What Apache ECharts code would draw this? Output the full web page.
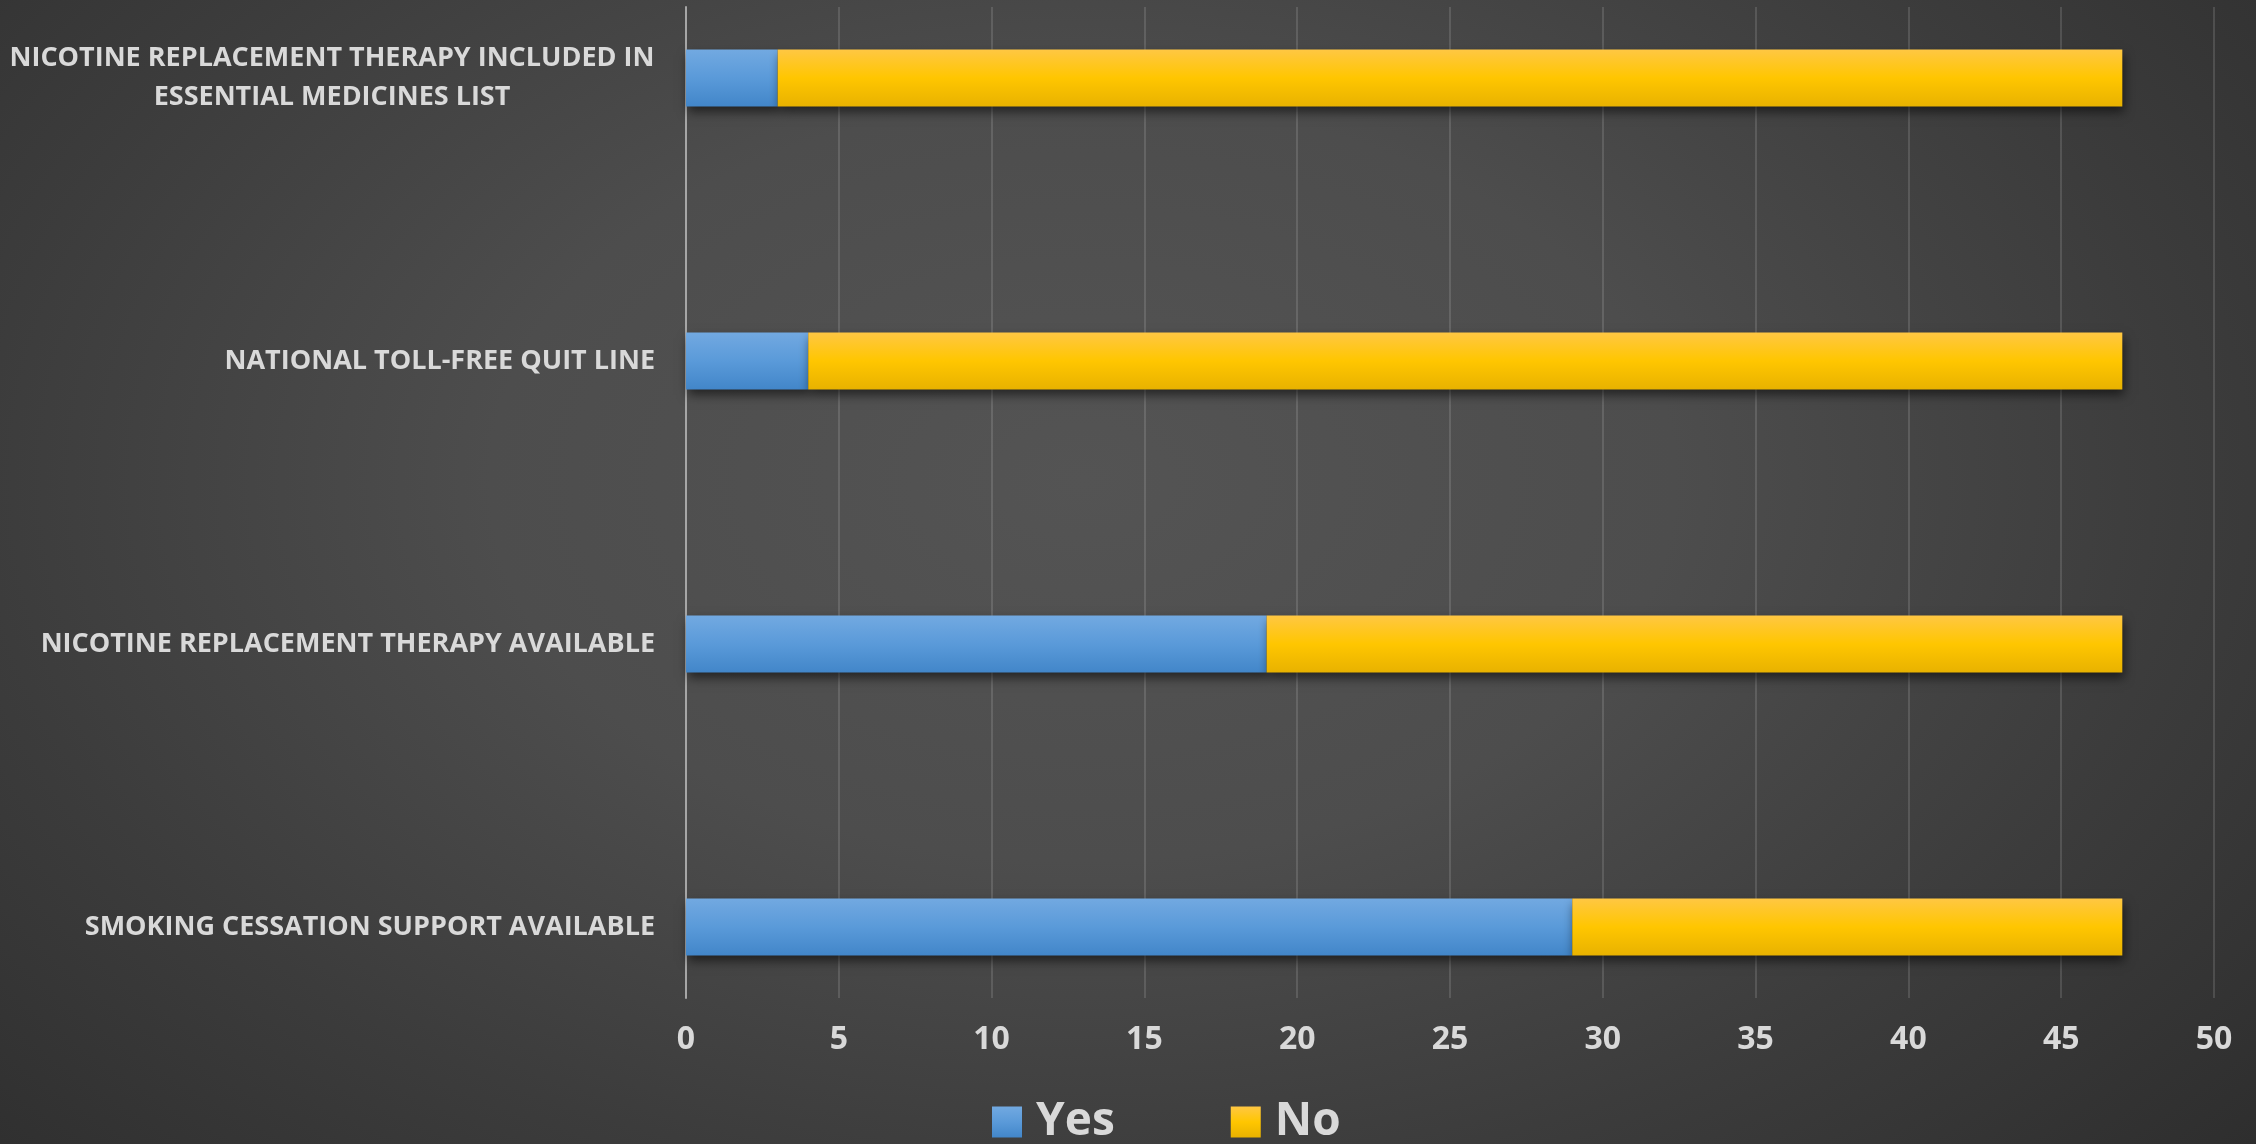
<!DOCTYPE html>
<html>
<head>
<meta charset="utf-8">
<script src="https://cdn.jsdelivr.net/npm/echarts@6/dist/echarts.min.js"></script>
<style>
html,body{margin:0;padding:0;width:2256px;height:1144px;overflow:hidden;}
#chart{width:2256px;height:1144px;background:radial-gradient(ellipse 75% 95% at 48% 42%, #545454 0%, #4d4d4d 35%, #3c3c3c 65%, #2a2a2a 100%);}
</style>
</head>
<body>
<div id="chart"></div>
<script>
const categories = [
  'NICOTINE REPLACEMENT THERAPY INCLUDED IN\nESSENTIAL MEDICINES LIST',
  'NATIONAL TOLL-FREE QUIT LINE',
  'NICOTINE REPLACEMENT THERAPY AVAILABLE',
  'SMOKING CESSATION SUPPORT AVAILABLE'
];
const yesValues = [3, 4, 19, 29];
const noValues = [44, 43, 28, 18];
const seriesNames = ['Yes', 'No'];
const xMin = 0, xMax = 50, xStep = 5;

const FONT = '"Open Sans", "DejaVu Sans Condensed", sans-serif';
const labelColor = '#d9d9d9';

function grad(c1, c2, c3) {
  return new echarts.graphic.LinearGradient(0, 0, 0, 1, [
    {offset: 0, color: c1}, {offset: 0.5, color: c2}, {offset: 1, color: c3}
  ]);
}

const chart = echarts.init(document.getElementById('chart'), null, {renderer: 'canvas'});
chart.setOption({
  backgroundColor: 'transparent',
  animation: false,
  legend: {
    data: seriesNames,
    left: 987,
    top: 1094,
    icon: 'rect',
    itemWidth: 30,
    itemHeight: 31,
    itemGap: 116,
    selectedMode: false,
    textStyle: {color: labelColor, fontSize: 46, fontWeight: 'bold', fontFamily: FONT, padding: [0, 0, 0, 9]}
  },
  grid: [
    {left: 686, right: 42, top: 7, bottom: 146, outerBoundsMode: 'none'},
    {left: 686, right: 42, top: -63.5, height: 1132, outerBoundsMode: 'none'}
  ],
  xAxis: [
    {
      type: 'value', gridIndex: 0, min: xMin, max: xMax, interval: xStep,
      axisLine: {show: false}, axisTick: {show: false},
      splitLine: {show: true, lineStyle: {color: 'rgba(255,255,255,0.13)', width: 2}},
      axisLabel: {color: labelColor, fontSize: 32, fontWeight: 'bold', fontFamily: FONT, margin: 26}
    },
    {
      type: 'value', gridIndex: 1, min: xMin, max: xMax, interval: xStep, show: false
    }
  ],
  yAxis: [
    {
      type: 'category', gridIndex: 0, data: ['a'],
      axisLine: {show: true, lineStyle: {color: '#a6a6a6', width: 2}},
      axisTick: {show: false}, axisLabel: {show: false}, splitLine: {show: false}
    },
    {
      type: 'category', gridIndex: 1, data: categories, inverse: true,
      axisLine: {show: false}, axisTick: {show: false}, splitLine: {show: false},
      axisLabel: {
        color: labelColor, fontSize: 27, fontWeight: 'bold', fontFamily: FONT, margin: 31,
        lineHeight: 39,
        formatter: function (v) {
          if (v.indexOf('\n') >= 0) {
            return v.split('\n').map(s => '{c|' + s + '}').join('\n');
          }
          return v;
        },
        rich: {
          c: {color: labelColor, fontSize: 27, fontWeight: 'bold', fontFamily: FONT, width: 646, align: 'center', lineHeight: 39}
        }
      }
    }
  ],
  series: [
    {
      name: seriesNames[0], type: 'bar', stack: 'total', xAxisIndex: 1, yAxisIndex: 1,
      barWidth: 57, data: yesValues,
      itemStyle: {
        color: grad('#72a9e1', '#5a9ad9', '#4286c9'),
        shadowColor: 'rgba(0,0,0,0.55)', shadowBlur: 10, shadowOffsetY: 5, shadowOffsetX: 2
      }
    },
    {
      name: seriesNames[1], type: 'bar', stack: 'total', xAxisIndex: 1, yAxisIndex: 1,
      barWidth: 57, data: noValues,
      itemStyle: {
        color: grad('#ffc743', '#ffc600', '#e8b200'),
        shadowColor: 'rgba(0,0,0,0.55)', shadowBlur: 10, shadowOffsetY: 5, shadowOffsetX: 2
      }
    }
  ]
});
</script>
</body>
</html>
